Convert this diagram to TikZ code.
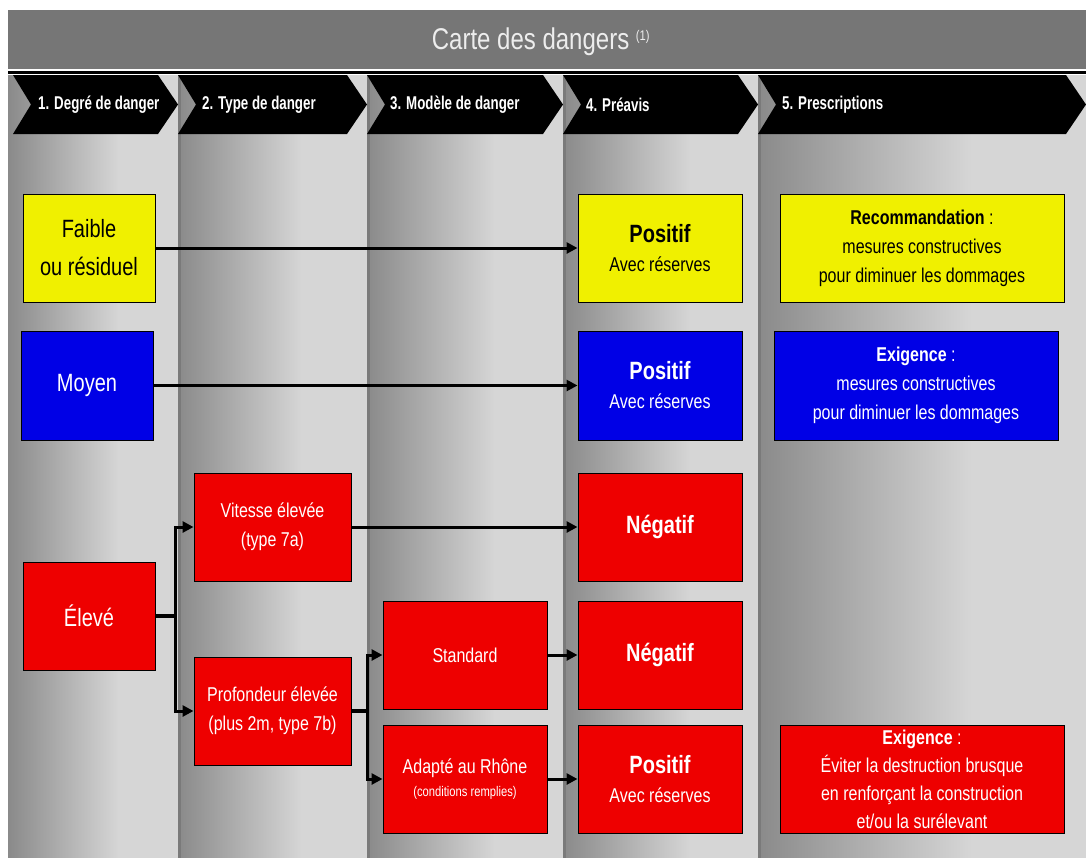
\documentclass[tikz,border=0pt]{standalone}
\usepackage{fontspec}
\setmainfont{Liberation Sans}[FakeStretch=0.8]
\newfontfamily\headfont{Liberation Sans}[FakeStretch=0.72]
\usetikzlibrary{arrows.meta}

\definecolor{titlegray}{HTML}{767676}
\definecolor{titletext}{HTML}{EDEDED}
\definecolor{coldark}{HTML}{8A8A8A}
\definecolor{collight}{HTML}{D6D6D6}
\definecolor{coledge}{HTML}{7A7A7A}
\definecolor{dyellow}{HTML}{F0F000}
\definecolor{dblue}{HTML}{0000E6}
\definecolor{dred}{HTML}{EE0000}

\begin{document}
\begin{tikzpicture}[
            x=1pt, y=-1pt,
            dbox/.style={rectangle, draw=black, line width=1pt, minimum height=108pt, inner sep=2pt, align=center},
            yellowbox/.style={dbox, fill=dyellow, text=black},
            bluebox/.style={dbox, fill=dblue, text=white},
            redbox/.style={dbox, fill=dred, text=white},
            big/.style={font=\fontsize{25}{38}\selectfont},
            mid/.style={font=\fontsize{20}{29}\selectfont},
            bigbold/.style={font=\bfseries\fontsize{25}{29}\selectfont},
            arrow/.style={-{Triangle[length=11pt, width=11pt]}, line width=3pt, black},
            stub/.style={line width=4.5pt, black},
            chevron/.style={fill=black},
            headlabel/.style={anchor=west, text=white, inner sep=0pt, font=\headfont\bfseries\fontsize{18.5}{20}\selectfont}
        ]
        \useasboundingbox (0,0) rectangle (1086,857);

        % Title bar
        \fill[titlegray] (8,10) rectangle (1086,69);
        \node[text=titletext, font=\fontsize{30}{32}\selectfont] (title) at (541,42) {Carte des dangers \textsuperscript{\fontsize{14}{14}\selectfont(1)}};
        \fill[black] (8,71) rectangle (1086,73.5);

        % Column backgrounds
        \shade[left color=coldark, right color=collight] (8,75) rectangle (119,862);
        \fill[collight] (118,75) rectangle (178,862);
        \shade[left color=coldark, right color=collight] (178,75) rectangle (302,862);
        \fill[collight] (301,75) rectangle (367,862);
        \shade[left color=coldark, right color=collight] (367,75) rectangle (495,862);
        \fill[collight] (494,75) rectangle (563,862);
        \shade[left color=coldark, right color=collight] (563,75) rectangle (691,862);
        \fill[collight] (690,75) rectangle (758,862);
        \shade[left color=coldark, right color=collight] (758,75) rectangle (972,862);
        \fill[collight] (971,75) rectangle (1090,862);
        \fill[coledge] (178,75) rectangle (181,862);
        \fill[coledge] (367,75) rectangle (370,862);
        \fill[coledge] (563,75) rectangle (566,862);
        \fill[coledge] (758,75) rectangle (761,862);

        % Header chevrons
        \fill[chevron] (13,75) -- (158,75) -- (178,104.5) -- (158,134) -- (13,134) -- (31,104.5) -- cycle;
        \fill[chevron] (178,75) -- (347,75) -- (367,104.5) -- (347,134) -- (178,134) -- (196,104.5) -- cycle;
        \fill[chevron] (367,75) -- (543,75) -- (563,104.5) -- (543,134) -- (367,134) -- (385,104.5) -- cycle;
        \fill[chevron] (563,75) -- (738,75) -- (758,104.5) -- (738,134) -- (563,134) -- (581,104.5) -- cycle;
        \fill[chevron] (758,75) -- (1066,75) -- (1086,104.5) -- (1066,134) -- (758,134) -- (776,104.5) -- cycle;
        \node[headlabel] (h1) at (38,104.5) {1. Degré de danger};
        \node[headlabel] (h2) at (202,104.5) {2. Type de danger};
        \node[headlabel] (h3) at (390,104.5) {3. Modèle de danger};
        \node[headlabel] (h4) at (586,104.5) {4. Préavis};
        \node[headlabel] (h5) at (782,104.5) {5. Prescriptions};

        % Degree of danger
        \node[yellowbox, big, minimum width=132pt] (faible) at (89,248) {Faible\\ou résiduel};
        \node[bluebox, big, minimum width=132pt, minimum height=109pt] (moyen) at (87,385.5) {Moyen};
        \node[redbox, big, minimum width=132pt] (eleve) at (89,616) {Élevé};

        % Type and model
        \node[redbox, mid, minimum width=157pt] (vitesse) at (272.5,527) {Vitesse élevée\\(type 7a)};
        \node[redbox, mid, minimum width=157pt] (profondeur) at (272.5,711) {Profondeur élevée\\(plus 2m, type 7b)};
        \node[redbox, mid, minimum width=164pt] (standard) at (465,655) {Standard};
        \node[redbox, mid, minimum width=164pt] (adapte) at (465,779) {Adapté au Rhône\\[-6pt]{\fontsize{14}{16}\selectfont(conditions remplies)}};

        % Notice
        \node[yellowbox, mid, minimum width=164pt] (pos1) at (660,248) {{\bfseries\fontsize{25}{29}\selectfont Positif}\\Avec réserves};
        \node[bluebox, mid, minimum width=164pt, minimum height=109pt] (pos2) at (660,385.5) {{\bfseries\fontsize{25}{29}\selectfont Positif}\\Avec réserves};
        \node[redbox, bigbold, minimum width=164pt] (neg1) at (660,527) {Négatif};
        \node[redbox, bigbold, minimum width=164pt] (neg2) at (660,655) {Négatif};
        \node[redbox, mid, minimum width=164pt] (pos3) at (660,779) {{\bfseries\fontsize{25}{29}\selectfont Positif}\\Avec réserves};

        % Prescriptions
        \node[yellowbox, mid, minimum width=284pt] (reco) at (922,248) {\textbf{Recommandation} :\\mesures constructives\\pour diminuer les dommages};
        \node[bluebox, mid, minimum width=284pt, minimum height=109pt] (exig1) at (916,385.5) {\textbf{Exigence} :\\mesures constructives\\pour diminuer les dommages};
        \node[redbox, font=\fontsize{20}{28}\selectfont, minimum width=284pt] (exig2) at (922,779) {\textbf{Exigence} :\\Éviter la destruction brusque\\en renforçant la construction\\et/ou la surélevant};

        % Connectors
        \draw[arrow] (faible) -- (pos1);
        \draw[arrow] (moyen) -- (pos2);
        \coordinate (fork1) at (175,616);
        \draw[stub] (eleve.east) -- (fork1);
        \draw[arrow] (fork1) |- (vitesse.west);
        \draw[arrow] (fork1) |- (profondeur.west);
        \draw[arrow] (vitesse) -- (neg1);
        \coordinate (fork2) at (367,711);
        \draw[stub] (profondeur.east) -- (fork2);
        \draw[arrow] (fork2) |- (standard.west);
        \draw[arrow] (fork2) |- (adapte.west);
        \draw[arrow] (standard) -- (neg2);
        \draw[arrow] (adapte) -- (pos3);
\end{tikzpicture}
\end{document}
